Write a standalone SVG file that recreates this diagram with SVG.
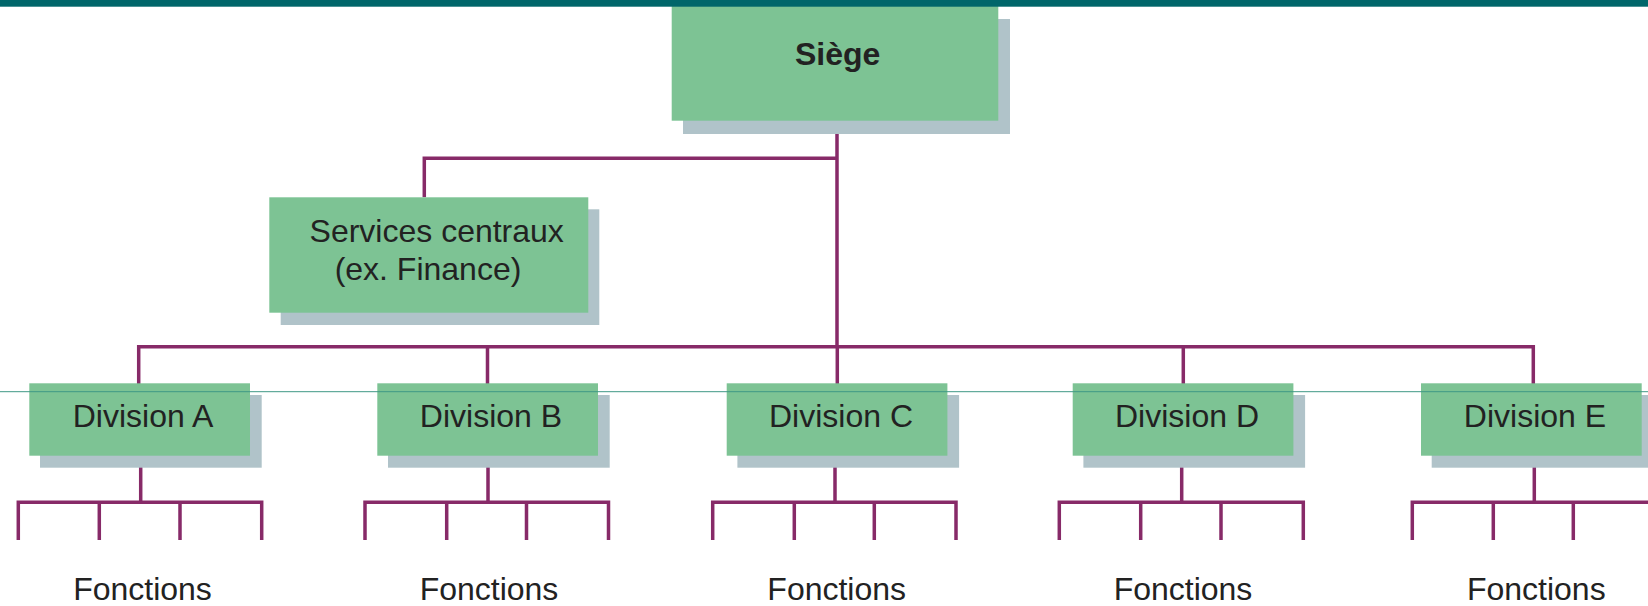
<svg xmlns="http://www.w3.org/2000/svg" width="1648" height="606" viewBox="0 0 1648 606">
<style>
.sh{fill:#b0c3c9}
.bx{fill:#7dc394}
.t{font-family:"Liberation Sans",Arial,sans-serif;font-size:32px;fill:#222;text-anchor:middle}
.b{font-weight:bold}
.ln{stroke:#872a68;stroke-width:3.5;fill:none;stroke-linecap:butt;stroke-linejoin:miter}
</style>
<rect width="1648" height="606" fill="#fff"/>
<g id="connectors" class="ln">
<path d="M837 120V346.7M424.3 197.3V158.3H837"/>
<path d="M138.7 385V346.7H1533.3V385M487.5 346.7V385M837.3 346.7V385M1183.3 346.7V385"/>
<path d="M140.7 463V502.3M18.3 540V502.3H261.7V540M99.3 502.3V540M180 502.3V540"/>
<path d="M488 463V502.3M365 540V502.3H608.5V540M446.7 502.3V540M526.5 502.3V540"/>
<path d="M835 463V502.3M712.7 540V502.3H956V540M794.3 502.3V540M874.3 502.3V540"/>
<path d="M1181.7 463V502.3M1059.3 540V502.3H1303.3V540M1140.7 502.3V540M1221 502.3V540"/>
<path d="M1534.3 463V502.3M1412.3 540V502.3H1654V540M1493.3 502.3V540M1573.3 502.3V540"/>
</g>
<g id="siege">
<rect class="sh" x="683" y="19" width="327" height="115"/>
<rect class="bx" x="671.7" y="6" width="326.6" height="114.7"/>
<text class="t b" x="837.7" y="65">Siège</text>
</g>
<g id="services">
<rect class="sh" x="280.7" y="209.3" width="318.6" height="115.7"/>
<rect class="bx" x="269.3" y="197.3" width="319" height="115.4"/>
<text class="t" x="436.7" y="241.7">Services centraux</text>
<text class="t" x="428" y="280">(ex. Finance)</text>
</g>
<g id="divA">
<rect class="sh" x="40" y="395" width="221.7" height="72.7"/>
<rect class="bx" x="29.3" y="383.3" width="220.7" height="72.4"/>
<text class="t" x="143" y="427.3">Division A</text>
</g>
<g id="divB">
<rect class="sh" x="388" y="395" width="221.7" height="72.7"/>
<rect class="bx" x="377.3" y="383.3" width="220.7" height="72.4"/>
<text class="t" x="491" y="427.3">Division B</text>
</g>
<g id="divC">
<rect class="sh" x="737.4" y="395" width="221.7" height="72.7"/>
<rect class="bx" x="726.7" y="383.3" width="220.7" height="72.4"/>
<text class="t" x="841" y="427.3">Division C</text>
</g>
<g id="divD">
<rect class="sh" x="1083.4" y="395" width="221.7" height="72.7"/>
<rect class="bx" x="1072.7" y="383.3" width="220.7" height="72.4"/>
<text class="t" x="1187" y="427.3">Division D</text>
</g>
<g id="divE">
<rect class="sh" x="1431.7" y="395" width="221.7" height="72.7"/>
<rect class="bx" x="1421" y="383.3" width="220.7" height="72.4"/>
<text class="t" x="1535" y="427.3">Division E</text>
</g>
<g id="fonctions">
<text class="t" x="142.5" y="600">Fonctions</text>
<text class="t" x="489" y="600">Fonctions</text>
<text class="t" x="836.7" y="600">Fonctions</text>
<text class="t" x="1183" y="600">Fonctions</text>
<text class="t" x="1536.3" y="600">Fonctions</text>
</g>
<rect id="topbar" x="0" y="0" width="1648" height="6.7" fill="#00666a"/>
<line id="guide" x1="0" y1="391.7" x2="1648" y2="391.7" stroke="#3f9886" stroke-width="1"/>
</svg>
